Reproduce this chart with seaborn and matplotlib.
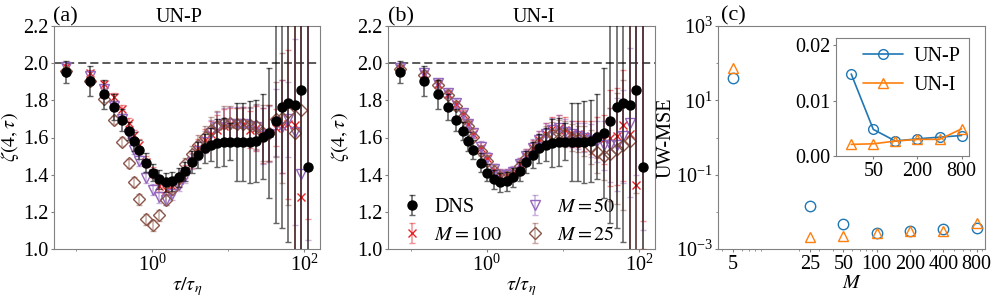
import matplotlib
matplotlib.use("Agg")
import matplotlib.pyplot as plt
import matplotlib.ticker as mticker
import seaborn as sns

# ---------------- data ----------------
tau = [0.073, 0.151, 0.232, 0.314, 0.397, 0.491, 0.566, 0.664, 0.834, 1.01,
       1.23, 1.50, 1.82, 2.22, 2.69, 3.28, 3.98, 4.84, 5.89, 7.16,
       8.70, 10.6, 12.9, 15.7, 19.0, 23.1, 28.1, 34.2, 41.6, 50.6,
       61.5, 74.8, 90.9, 111.0]

dns = [1.954, 1.904, 1.832, 1.763, 1.695, 1.636, 1.580, 1.534, 1.464, 1.410,
       1.374, 1.359, 1.364, 1.386, 1.418, 1.467, 1.508, 1.541, 1.562, 1.571,
       1.575, 1.577, 1.577, 1.574, 1.575, 1.580, 1.604, 1.625, 1.688, 1.763,
       1.787, 1.776, 1.853, 1.440]
dns_err = [0.06, 0.08, 0.08, 0.07, 0.06, 0.05, 0.05, 0.05, 0.05, 0.045,
           0.05, 0.05, 0.05, 0.05, 0.05, 0.06, 0.07, 0.08, 0.09, 0.13,
           0.13, 0.10, 0.21, 0.21, 0.22, 0.22, 0.23, 0.35, 0.55, 0.65,
           0.75, 0.85, 1.00, 1.50]

# panel (a): UN-P
m100_a = [1.981, 1.945, 1.886, 1.817, 1.751, 1.679, 1.616, 1.562, 1.469, 1.410,
          1.338, 1.320, 1.338, 1.370, 1.418, 1.476, 1.541, 1.584, 1.620, 1.643,
          1.661, 1.670, 1.670, 1.675, 1.643, 1.650, 1.611, 1.625, 1.652, 1.661,
          1.670, 1.665, 1.280, 2.50]
m100_a_err = [0.015, 0.02, 0.02, 0.02, 0.025, 0.025, 0.025, 0.03, 0.03, 0.03,
              0.03, 0.03, 0.03, 0.03, 0.035, 0.04, 0.05, 0.06, 0.07, 0.08,
              0.09, 0.09, 0.09, 0.09, 0.10, 0.12, 0.15, 0.15, 0.10, 0.25,
              0.40, 0.80, 1.20, 1.34]
m50_a = [1.980, 1.930, 1.862, 1.769, 1.700, 1.620, 1.535, 1.476, 1.383, 1.320,
         1.278, 1.266, 1.296, 1.343, 1.391, 1.470, 1.530, 1.577, 1.625, 1.656,
         1.670, 1.675, 1.675, 1.675, 1.660, 1.655, 1.610, 1.620, 1.680, 1.658,
         1.697, 1.628, 1.406, 2.60]
m50_a_err = [0.015, 0.02, 0.02, 0.02, 0.025, 0.025, 0.025, 0.03, 0.03, 0.03,
             0.03, 0.03, 0.03, 0.03, 0.035, 0.04, 0.05, 0.06, 0.07, 0.08,
             0.09, 0.09, 0.09, 0.09, 0.10, 0.12, 0.15, 0.15, 0.18, 0.25,
             0.20, 0.50, 0.90, 1.55]
m25_a = [1.960, 1.904, 1.809, 1.695, 1.577, 1.461, 1.361, 1.267, 1.160, 1.127,
         1.181, 1.266, 1.323, 1.380, 1.455, 1.512, 1.562, 1.602, 1.638, 1.661,
         1.679, 1.679, 1.670, 1.670, 1.665, 1.660, 1.625, 1.625, 1.697, 1.703,
         1.736, 1.625, 1.747, 2.50]
m25_a_err = [0.015, 0.02, 0.02, 0.02, 0.025, 0.025, 0.025, 0.03, 0.03, 0.03,
             0.03, 0.03, 0.03, 0.03, 0.035, 0.04, 0.05, 0.06, 0.07, 0.08,
             0.09, 0.09, 0.09, 0.09, 0.10, 0.12, 0.15, 0.15, 0.20, 0.35,
             0.50, 1.20, 1.30, 1.60]

# panel (b): UN-I
m100_b = [1.975, 1.940, 1.890, 1.836, 1.778, 1.724, 1.670, 1.620, 1.545, 1.487,
          1.427, 1.400, 1.400, 1.410, 1.455, 1.500, 1.541, 1.584, 1.620, 1.645,
          1.650, 1.640, 1.620, 1.620, 1.610, 1.600, 1.598, 1.590, 1.598, 1.607,
          1.665, 1.620, 1.345, 2.60]
m100_b_err = [0.015, 0.02, 0.02, 0.02, 0.02, 0.025, 0.025, 0.025, 0.03, 0.03,
              0.03, 0.03, 0.03, 0.03, 0.035, 0.04, 0.045, 0.05, 0.06, 0.065,
              0.07, 0.07, 0.07, 0.07, 0.08, 0.09, 0.11, 0.13, 0.26, 0.26,
              0.30, 0.70, 1.20, 1.45]
m50_b = [1.975, 1.945, 1.895, 1.840, 1.785, 1.730, 1.675, 1.625, 1.550, 1.490,
         1.430, 1.400, 1.400, 1.415, 1.455, 1.500, 1.545, 1.585, 1.620, 1.640,
         1.650, 1.630, 1.620, 1.610, 1.600, 1.585, 1.580, 1.557, 1.560, 1.560,
         1.607, 1.679, 2.60, 2.60]
m50_b_err = [0.015, 0.02, 0.02, 0.02, 0.02, 0.025, 0.025, 0.025, 0.03, 0.03,
             0.03, 0.03, 0.03, 0.03, 0.035, 0.04, 0.045, 0.05, 0.06, 0.065,
             0.07, 0.07, 0.07, 0.07, 0.08, 0.09, 0.11, 0.13, 0.20, 0.25,
             0.25, 0.40, 1.20, 1.50]
m25_b = [1.970, 1.935, 1.885, 1.830, 1.770, 1.710, 1.660, 1.605, 1.530, 1.475,
         1.420, 1.390, 1.390, 1.400, 1.445, 1.490, 1.530, 1.570, 1.600, 1.620,
         1.625, 1.620, 1.600, 1.590, 1.580, 1.550, 1.520, 1.500, 1.510, 1.540,
         1.560, 1.580, 2.60, 2.60]
m25_b_err = [0.015, 0.02, 0.02, 0.02, 0.02, 0.025, 0.025, 0.025, 0.03, 0.03,
             0.03, 0.03, 0.03, 0.03, 0.035, 0.04, 0.045, 0.05, 0.06, 0.065,
             0.07, 0.07, 0.07, 0.07, 0.08, 0.09, 0.11, 0.13, 0.25, 0.30,
             0.35, 0.90, 1.30, 1.60]

# panel (c)
M_vals = [5, 25, 50, 100, 200, 400, 800]
mse_unp = [40.0, 0.0148, 0.0048, 0.0027, 0.0031, 0.0034, 0.0037]
mse_uni = [76.0, 0.0021, 0.0022, 0.0027, 0.0030, 0.0030, 0.0049]
M_tick_labels = ["5", "25", "50", "100", "200", "400", "800"]

# ---------------- style ----------------
sns.set_style("ticks")
plt.rcParams["font.family"] = ["Liberation Serif", "DejaVu Serif"]
plt.rcParams["mathtext.fontset"] = "stix"
plt.rcParams["font.size"] = 14
plt.rcParams["axes.edgecolor"] = "0.5"
plt.rcParams["xtick.color"] = "0.5"
plt.rcParams["ytick.color"] = "0.5"
plt.rcParams["xtick.labelcolor"] = "black"
plt.rcParams["ytick.labelcolor"] = "black"
plt.rcParams["text.color"] = "black"
plt.rcParams["axes.labelcolor"] = "black"
plt.rcParams["xtick.labelsize"] = 14.5
plt.rcParams["ytick.labelsize"] = 14.5
plt.rcParams["xtick.major.size"] = 2.5
plt.rcParams["ytick.major.size"] = 2.5
plt.rcParams["xtick.minor.size"] = 1.5
plt.rcParams["ytick.minor.size"] = 1.5
plt.rcParams["xtick.major.pad"] = 1.5
plt.rcParams["ytick.major.pad"] = 1.5

W, H = 997, 303
fig = plt.figure(figsize=(W / 100, H / 100), dpi=100)


def rect(l, r, t, b):
    return [l / W, 1 - b / H, (r - l) / W, (b - t) / H]


ax_a = fig.add_axes(rect(54, 320, 26, 249))
ax_b = fig.add_axes(rect(388, 655, 26, 249))
ax_c = fig.add_axes(rect(718, 985, 26, 249))
ax_in = fig.add_axes(rect(836, 969, 38, 156))

C_RED = "#e8262a"
C_PUR = "#9467bd"
C_BRN = "#8c564b"


def draw_zeta(ax, series, ylab_x, legend=False):
    ax.set_xscale("log")
    ax.axhline(2.0, color="0.3", lw=1.3, ls=(0, (4.5, 2.2)), zorder=1)
    ax.errorbar(tau, dns, yerr=dns_err, fmt="o", color="black", ms=6.5,
                ecolor=(0, 0, 0, 0.6), elinewidth=1.2, capsize=2, capthick=1.0,
                label="DNS", zorder=4)
    for vals, errs, marker, color, ms, label in series:
        ax.errorbar(tau, vals, yerr=errs, fmt=marker, color=color,
                    mfc="none", mec=color, mew=1.0, ms=ms,
                    ecolor=matplotlib.colors.to_rgba(color, 0.5),
                    elinewidth=1.1, capsize=2, capthick=1.0,
                    label=label, zorder=3)
    ax.set_xlim(0.0506, 160)
    ax.set_ylim(1.0, 2.2)
    ax.set_yticks([1.0, 1.2, 1.4, 1.6, 1.8, 2.0, 2.2])
    ax.yaxis.set_major_formatter(mticker.FormatStrFormatter("%.1f"))
    ax.xaxis.set_major_locator(mticker.FixedLocator([1, 100]))
    ax.xaxis.set_minor_locator(mticker.FixedLocator([0.1, 10]))
    ax.xaxis.set_minor_formatter(mticker.NullFormatter())
    ax.set_xlabel(r"$\tau/\tau_\eta$", fontsize=14.5)
    ax.set_ylabel(r"$\zeta(4,\tau)$", fontsize=14.5)
    ax.xaxis.set_label_coords(0.5, -0.115)
    ax.yaxis.set_label_coords(ylab_x, 0.5)
    if legend:
        ax.legend(loc="lower left", bbox_to_anchor=(0.0, -0.045), ncol=2,
                  frameon=False, fontsize=14.5, handlelength=1.0,
                  handletextpad=0.6, columnspacing=1.1, borderaxespad=0.3,
                  labelspacing=0.45)


draw_zeta(ax_a, [
    (m100_a, m100_a_err, "x", C_RED, 6, r"$M=100$"),
    (m50_a, m50_a_err, "v", C_PUR, 7, r"$M=50$"),
    (m25_a, m25_a_err, "D", C_BRN, 6.5, r"$M=25$"),
], ylab_x=-0.125)
draw_zeta(ax_b, [
    (m100_b, m100_b_err, "x", C_RED, 6, r"$M=100$"),
    (m50_b, m50_b_err, "v", C_PUR, 7, r"$M=50$"),
    (m25_b, m25_b_err, "D", C_BRN, 6.5, r"$M=25$"),
], ylab_x=-0.138, legend=True)

# panel (c)
ax_c.set_xscale("log")
ax_c.set_yscale("log")
sns.lineplot(x=M_vals, y=mse_unp, ax=ax_c, marker="o", linestyle="None",
             markersize=7.5, markerfacecolor="none", markeredgecolor="C0",
             markeredgewidth=1.0, color="C0")
sns.lineplot(x=M_vals, y=mse_uni, ax=ax_c, marker="^", linestyle="None",
             markersize=7.5, markerfacecolor="none", markeredgecolor="C1",
             markeredgewidth=1.0, color="C1")
ax_c.set_xlim(3.68, 950)
ax_c.set_ylim(1e-3, 1e3)
ax_c.xaxis.set_major_locator(mticker.FixedLocator(M_vals))
ax_c.xaxis.set_major_formatter(mticker.FixedFormatter(M_tick_labels))
ax_c.xaxis.set_minor_formatter(mticker.NullFormatter())
ax_c.yaxis.set_major_locator(mticker.FixedLocator([1e-3, 1e-1, 1e1, 1e3]))
ax_c.yaxis.set_minor_locator(mticker.FixedLocator([1e-2, 1e0, 1e2]))
ax_c.yaxis.set_major_formatter(mticker.LogFormatterSciNotation())
ax_c.yaxis.set_minor_formatter(mticker.NullFormatter())
ax_c.set_xlabel(r"$M$", fontsize=14.5)
ax_c.set_ylabel("UW-MSE", fontsize=14.5)
ax_c.xaxis.set_label_coords(0.5, -0.112)
ax_c.yaxis.set_label_coords(-0.158, 0.5)

# inset
ax_in.set_xscale("log")
sns.lineplot(x=M_vals[1:], y=mse_unp[1:], ax=ax_in, marker="o", color="C0",
             lw=1.2, markersize=7, markerfacecolor="none",
             markeredgecolor="C0", markeredgewidth=1.0, label="UN-P")
sns.lineplot(x=M_vals[1:], y=mse_uni[1:], ax=ax_in, marker="^", color="C1",
             lw=1.2, markersize=7, markerfacecolor="none",
             markeredgecolor="C1", markeredgewidth=1.0, label="UN-I")
ax_in.set_xlim(15.5, 1010)
ax_in.set_ylim(0, 0.0213)
ax_in.xaxis.set_major_locator(mticker.FixedLocator([50, 200, 800]))
ax_in.xaxis.set_major_formatter(mticker.FixedFormatter(["50", "200", "800"]))
ax_in.xaxis.set_minor_locator(mticker.NullLocator())
ax_in.set_yticks([0.0, 0.01, 0.02])
ax_in.yaxis.set_major_formatter(mticker.FormatStrFormatter("%.2f"))
ax_in.set_xlabel("")
ax_in.set_ylabel("")
ax_in.legend(loc="upper right", frameon=False, fontsize=14.5, handlelength=2.0,
             handletextpad=0.5, borderaxespad=0.05, labelspacing=0.5)

# titles and panel labels
fig.text(53 / W, 1 - 21 / H, "(a)", fontsize=16, ha="left", va="baseline")
fig.text(388 / W, 1 - 21 / H, "(b)", fontsize=16, ha="left", va="baseline")
fig.text(721 / W, 1 - 20 / H, "(c)", fontsize=16, ha="left", va="baseline")
fig.text(178.5 / W, 1 - 21.5 / H, "UN-P", fontsize=14.5, ha="center", va="baseline")
fig.text(534 / W, 1 - 21.5 / H, "UN-I", fontsize=14.5, ha="center", va="baseline")

fig.savefig("out.png", dpi=100)
